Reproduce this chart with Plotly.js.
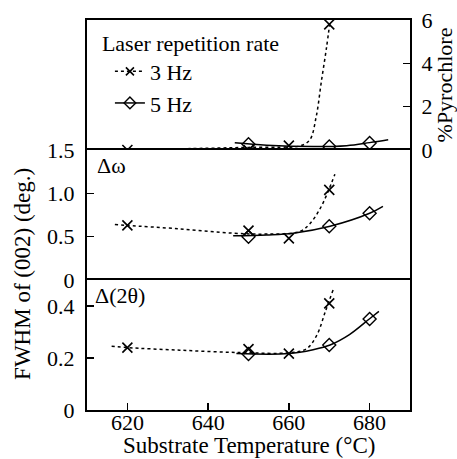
<!DOCTYPE html>
<html>
<head>
<meta charset="utf-8">
<script src="https://cdn.plot.ly/plotly-3.0.1.min.js"></script>
<style>html,body{margin:0;padding:0;background:#fff;}#chart{width:457px;height:459px;}</style>
</head>
<body>
<div id="chart"></div>
<script>
// ---- measured data (substrate temperature, °C) ----
var temps3Hz = [620, 650, 660, 670];
var temps5Hz = [650, 670, 680];

// %Pyrochlore
var pyro3Hz = [0.0, 0.0, 0.2, 5.8];
var pyro5Hz = [0.27, 0.16, 0.32];
// Δω FWHM (deg.)
var omega3Hz = [0.63, 0.57, 0.48, 1.04];
var omega5Hz = [0.50, 0.62, 0.77];
// Δ(2θ) FWHM (deg.)
var twoTheta3Hz = [0.24, 0.234, 0.217, 0.41];
var twoTheta5Hz = [0.215, 0.25, 0.35];

// guide curves
var pyroFit3T = [620, 640, 650, 660, 663, 665.2, 666.8, 668, 669.3, 670.2];
var pyroFit3V = [0.02, 0.08, 0.12, 0.14, 0.2, 0.47, 1.57, 3.1, 4.7, 5.95];
var pyroFit5T = [646.6, 654.5, 666, 674.3, 680, 684.6];
var pyroFit5V = [0.33, 0.22, 0.16, 0.2, 0.34, 0.47];

var omegaFit3T = [616.9, 620, 633, 646.2, 654.5, 662.7, 665.2, 667.7, 669.7, 671.4];
var omegaFit3V = [0.64, 0.63, 0.59, 0.54, 0.53, 0.56, 0.65, 0.82, 1.02, 1.22];
var omegaFit5T = [646.2, 654.5, 661.1, 670.2, 680, 683.3];
var omegaFit5V = [0.51, 0.52, 0.54, 0.62, 0.77, 0.85];

var ttFit3T = [616.1, 620, 633, 647.9, 660, 664.4, 666.9, 669, 671];
var ttFit3V = [0.245, 0.24, 0.23, 0.221, 0.22, 0.236, 0.287, 0.377, 0.464];
var ttFit5T = [647, 660, 666, 670.2, 675, 680, 682.3];
var ttFit5V = [0.217, 0.217, 0.232, 0.25, 0.29, 0.351, 0.379];

// tick labels
var xTicks = [620, 640, 660, 680];
var pyroTicks = [0, 2, 4, 6];
var omegaTickVals = [0, 0.5, 1.0, 1.5];
var omegaTickText = ["0", "0.5", "1.0", "1.5"];
var ttTickVals = [0, 0.2, 0.4];
var ttTickText = ["0", "0.2", "0.4"];

var legendTitle = "Laser repetition rate";
var seriesNames = ["3 Hz", "5 Hz"];
var xTitle = "Substrate Temperature (°C)";
var yTitle = "FWHM of (002) (deg.)";
var y2Title = "%Pyrochlore";

var FONT = "Liberation Serif";
var FS = 22;
var dash3 = "3px,3px";
var lw = 1.5;

function fnt(s) { return {family: FONT, size: s || FS, color: "#000"}; }
function fit(x, y, ax, dash) {
  return {x: x, y: y, xaxis: ax[0], yaxis: ax[1], mode: "lines", type: "scatter",
    line: {color: "#000", width: lw, dash: dash, shape: "spline", smoothing: 1},
    showlegend: false, hoverinfo: "skip"};
}
function pts(x, y, ax, sym) {
  var isX = sym === "x";
  return {x: x, y: y, xaxis: ax[0], yaxis: ax[1], mode: "markers", type: "scatter",
    marker: isX ? {symbol: "x-thin-open", size: 10, color: "#000", line: {color: "#000", width: 1.6}}
                : {symbol: "diamond-open", size: 10, color: "#000", line: {color: "#000", width: 1.4}},
    showlegend: false};
}

var top_ = ["x", "y"], mid = ["x2", "y2"], bot = ["x3", "y3"];
var data = [
  fit(pyroFit3T, pyroFit3V, top_, dash3), fit(pyroFit5T, pyroFit5V, top_, "solid"),
  pts(temps3Hz, pyro3Hz, top_, "x"), pts(temps5Hz, pyro5Hz, top_, "d"),
  fit(omegaFit3T, omegaFit3V, mid, dash3), fit(omegaFit5T, omegaFit5V, mid, "solid"),
  pts(temps3Hz, omega3Hz, mid, "x"), pts(temps5Hz, omega5Hz, mid, "d"),
  fit(ttFit3T, ttFit3V, bot, dash3), fit(ttFit5T, ttFit5V, bot, "solid"),
  pts(temps3Hz, twoTheta3Hz, bot, "x"), pts(temps5Hz, twoTheta5Hz, bot, "d"),
  // legend entries
  {x: [null], y: [null], xaxis: "x", yaxis: "y", name: seriesNames[0], mode: "lines+markers", type: "scatter",
   line: {color: "#000", width: lw, dash: dash3},
   marker: {symbol: "x-thin-open", size: 8, color: "#000", line: {color: "#000", width: 1.6}}},
  {x: [null], y: [null], xaxis: "x", yaxis: "y", name: seriesNames[1], mode: "lines+markers", type: "scatter",
   line: {color: "#000", width: lw},
   marker: {symbol: "diamond-open", size: 9, color: "#000", line: {color: "#000", width: 1.4}}}
];

var xbase = {range: [610, 690], showline: true, linecolor: "#000", linewidth: 2,
  zeroline: false, showgrid: false, fixedrange: true};
var ybase = {showline: true, linecolor: "#000", linewidth: 2, mirror: true, zeroline: false,
  showgrid: false, ticks: "inside", ticklen: 7, tickwidth: 1.5, tickcolor: "#000", fixedrange: true,
  tickfont: fnt()};

var layout = {
  width: 457, height: 459,
  margin: {l: 87, r: 47, t: 20, b: 49},
  paper_bgcolor: "#fff", plot_bgcolor: "#fff",
  font: fnt(),
  showlegend: true,
  legend: {x: 0.04, y: 0.995, xanchor: "left", yanchor: "top", bgcolor: "rgba(0,0,0,0)",
    font: fnt(), title: {text: legendTitle, font: fnt()},
    tracegroupgap: 0, itemwidth: 30, indentation: 10},
  xaxis: Object.assign({}, xbase, {anchor: "y", side: "top", mirror: false, showticklabels: false, ticks: ""}),
  xaxis2: Object.assign({}, xbase, {anchor: "y2", side: "top", mirror: false, showticklabels: false, ticks: ""}),
  xaxis3: Object.assign({}, xbase, {anchor: "y3", mirror: true, tickvals: xTicks, ticks: "inside", ticklen: 7,
    tickwidth: 1.5, tickcolor: "#000", tickfont: fnt(), ticklabelstandoff: -8}),
  yaxis: Object.assign({}, ybase, {domain: [2/3, 1], range: [0, 6], side: "right", anchor: "x",
    tickvals: pyroTicks, ticklabelstandoff: 5,
    title: {text: y2Title, font: fnt(), standoff: 13}}),
  yaxis2: Object.assign({}, ybase, {domain: [1/3, 2/3], range: [0, 1.5], anchor: "x2",
    tickvals: omegaTickVals, ticktext: omegaTickText, ticklabelstandoff: 6}),
  yaxis3: Object.assign({}, ybase, {domain: [0, 1/3], range: [0, 0.5], anchor: "x3",
    tickvals: ttTickVals, ticktext: ttTickText, ticklabelstandoff: 6}),
  annotations: [
    {text: "Δω", xref: "x2 domain", yref: "y2 domain", x: 0.025, y: 0.99, xanchor: "left", yanchor: "top",
     showarrow: false, font: fnt()},
    {text: "Δ(2θ)", xref: "x3 domain", yref: "y3 domain", x: 0.02, y: 0.99, xanchor: "left", yanchor: "top",
     showarrow: false, font: fnt()},
    {text: xTitle, xref: "paper", yref: "paper", x: 0.5, y: -0.091, xanchor: "center", yanchor: "middle",
     showarrow: false, font: fnt(23)},
    {text: yTitle, xref: "paper", yref: "paper", x: -0.2, y: 0.35,
     xanchor: "center", yanchor: "middle", textangle: -90, showarrow: false, font: fnt(23)}
  ]
};

Plotly.newPlot("chart", data, layout, {displayModeBar: false, staticPlot: true});
</script>
</body>
</html>
